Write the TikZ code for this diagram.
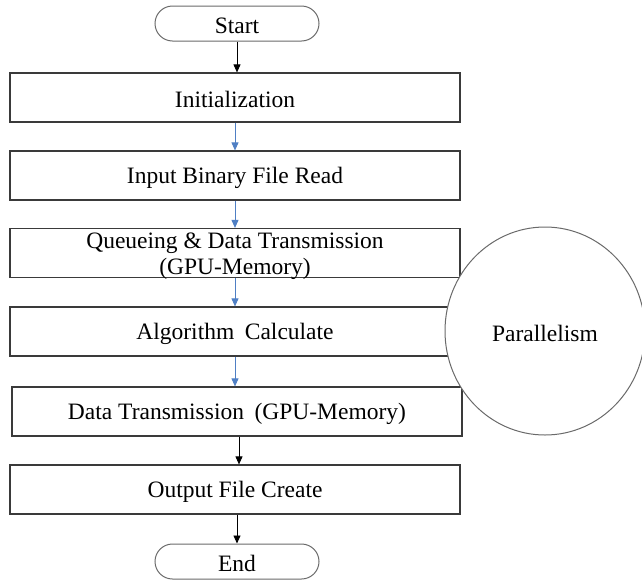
\documentclass[tikz,border=0pt]{standalone}
\usepackage{fontspec}
\setmainfont{Liberation Serif}
\usetikzlibrary{arrows.meta,shapes.misc,shapes.geometric}
\definecolor{boxline}{HTML}{3A3A3A}
\definecolor{pillline}{HTML}{6A6A6A}
\definecolor{flowblue}{HTML}{4F7FC4}
% set a label a little below the centre of its box, keeping its size
\newcommand\lowlabel[1]{\raisebox{-2pt}[\height][\depth]{#1}}
\begin{document}
\begin{tikzpicture}[x=1pt,y=-1pt,
  every node/.style={font=\fontsize{23.5}{26}\selectfont, text=black},
  stepbox/.style={draw=boxline, line width=1.2pt, fill=white, minimum width=450pt, minimum height=49pt, inner sep=0pt},
  terminal/.style={draw=pillline, line width=1pt, rounded rectangle, minimum width=164pt, minimum height=35pt, inner sep=0pt},
  flow/.style={line width=0.9pt, -{Triangle[length=8pt,width=7pt]}},
  blueflow/.style={flow, draw=flowblue, color=flowblue},
  blackflow/.style={flow, draw=black, color=black}]
\useasboundingbox (0,0) rectangle (642,579);
\begin{scope}
\clip (0,0) rectangle (642,579);
% flow boxes
\node[terminal] (start) at (237,23.5) {\lowlabel{Start}};
\node[stepbox] (init) at (235,97.5) {\lowlabel{Initialization}};
\node[stepbox] (read) at (235,175.5) {\lowlabel{Input Binary File Read}};
\node[stepbox] (queue) at (235,253) {};
\node[font=\fontsize{23.5}{26.5}\selectfont, align=center, inner sep=0pt] (queuetext) at (235,256) {Queueing \& Data Transmission\\(GPU-Memory)};
\node[stepbox] (algo) at (235,331.5) {\lowlabel{Algorithm\hspace{0.45em}Calculate}};
\node[stepbox] (trans) at (237,411.5) {\lowlabel{Data Transmission\hspace{0.45em}(GPU-Memory)}};
\node[stepbox] (output) at (235,489.5) {\lowlabel{Output File Create}};
\node[terminal] (end) at (237,561.5) {\lowlabel{End}};
% parallel region drawn over the boxes
\node[draw=pillline, line width=1pt, fill=white, ellipse, minimum width=200pt, minimum height=208pt, inner sep=0pt] (par) at (545,331) {};
\node (partext) at (545,333) {Parallelism};
% connectors
\draw[blackflow] (start.south) -- (start.south |- init.north);
\draw[blueflow] (init.south) -- (read.north);
\draw[blueflow] (read.south) -- (queue.north);
\draw[blueflow] (queue.south) -- (algo.north);
\draw[blueflow] (algo.south) -- (algo.south |- trans.north);
\draw[blackflow] ([xshift=2pt]trans.south) -- ([xshift=2pt]trans.south |- output.north);
\draw[blackflow] (output.south -| end.north) -- (end.north);
\end{scope}
\end{tikzpicture}
\end{document}
